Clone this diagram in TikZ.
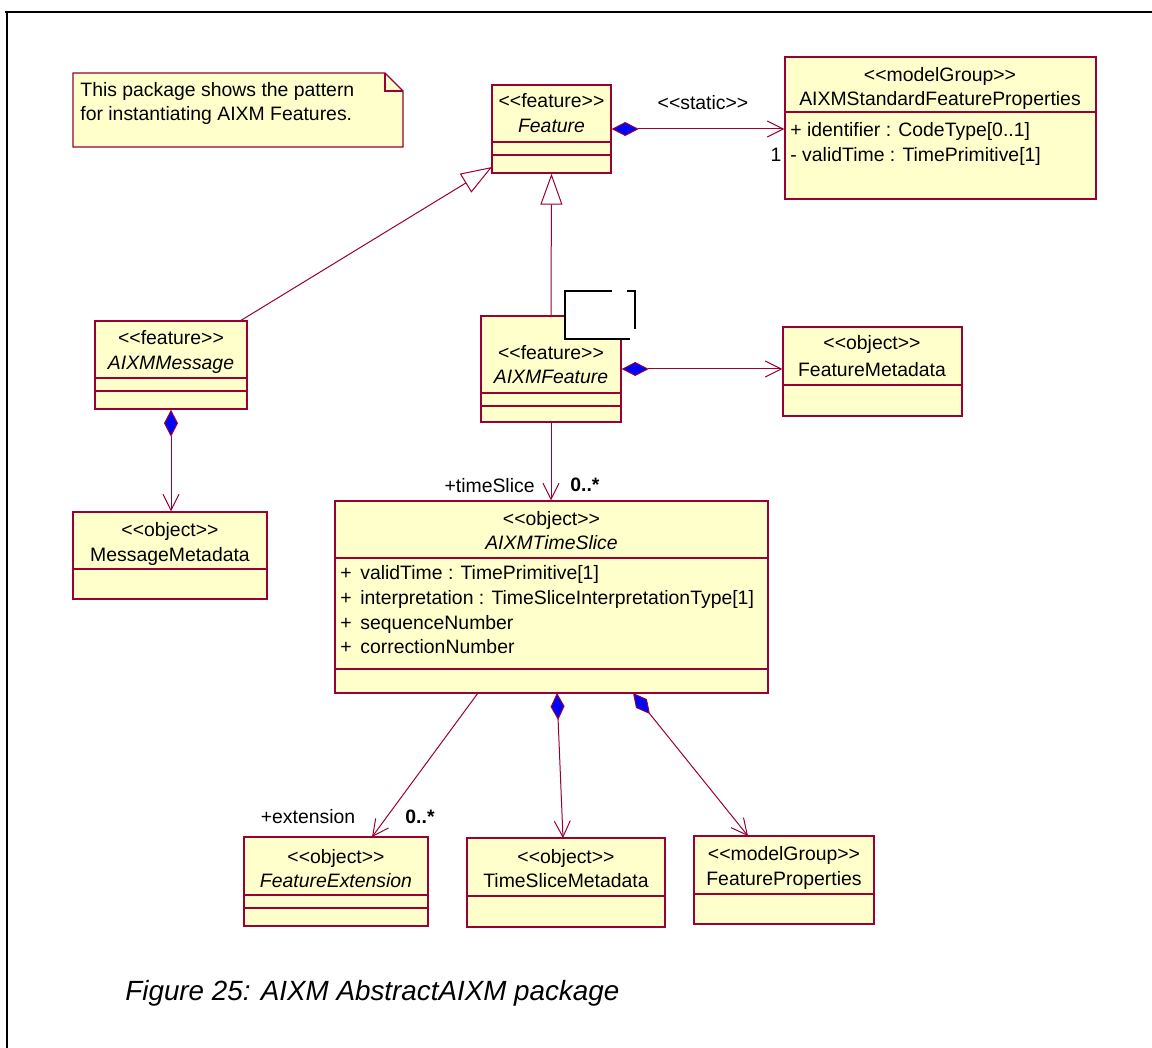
\documentclass[tikz,border=0pt]{standalone}
\usepackage{fontspec}
\setmainfont{Liberation Sans}
\usetikzlibrary{arrows.meta, positioning, calc, fit}

\definecolor{umlred}{RGB}{153,0,51}
\definecolor{umlyellow}{RGB}{255,255,204}
\definecolor{umlblue}{RGB}{0,0,255}
% stereotype brackets, kept apart so they are not turned into guillemets
\newcommand{\stype}[1]{<\kern0pt<#1>\kern0pt>}

\tikzset{
  umlbox/.style={draw=umlred, fill=umlyellow, line width=0.7pt, inner sep=0pt},
  sepline/.style={draw=umlred, line width=0.6pt},
  txt/.style={inner sep=0pt, anchor=base},
  attr/.style={inner sep=0pt, anchor=base west},
  assoc/.style={draw=umlred, line width=0.5pt, arrows={-Straight Barb[length=8pt,width=8pt]}},
  compo/.style={draw=umlred, line width=0.5pt,
    arrows={Diamond[length=13.5pt,width=7pt,fill=umlblue]-Straight Barb[length=8pt,width=8pt]}},
  gener/.style={draw=umlred, line width=0.5pt, arrows={-Triangle[length=15.5pt,width=11pt,fill=white]}}
}

\begin{document}
\begin{tikzpicture}[x=0.5pt,y=-0.5pt,font=\fontsize{9.7}{11}\selectfont]

\useasboundingbox (0,0) rectangle (1152,1048);

% --- cornice
\draw[line width=1.3pt] (5,12) -- (1152,12);
\draw[line width=1pt] (7,12) -- (7,1048);

% ================== Nota ==================
\draw[umlbox] (73,73) -- (385,73) -- (403,91) -- (403,147) -- (73,147) -- cycle;
\draw[sepline] (385,73) -- (385,91) -- (403,91);
\node[attr] (note) at (80,97) {This package shows the pattern};
\node[attr] (note2) at (80,121) {for instantiating AIXM Features.};

% ================== Classi ==================
% Feature
\node[umlbox, fit={(492,85) (611,173)}] (feat) {};
\draw[sepline] (492,142) -- (611,142);
\draw[sepline] (492,155) -- (611,155);
\node[txt] at (551.5,108) {\stype{feature}};
\node[txt] at (551.5,133) {\textit{Feature}};

% AIXMStandardFeatureProperties
\node[umlbox, fit={(785,57) (1096,199)}] (stdprops) {};
\draw[sepline] (785,112) -- (1096,112);
\node[txt] at (940,82) {\stype{modelGroup}};
\node[txt] at (940,106) {AIXMStandardFeatureProperties};
\node[attr] at (790,137) {+ identifier : CodeType[0..1]};
\node[attr] at (790,162) {- validTime : TimePrimitive[1]};

% AIXMMessage
\node[umlbox, fit={(95,321) (247,409)}] (msg) {};
\draw[sepline] (95,378) -- (247,378);
\draw[sepline] (95,391) -- (247,391);
\node[txt] at (171,345) {\stype{feature}};
\node[txt] at (171,370) {\textit{AIXMMessage}};

% MessageMetadata
\node[umlbox, fit={(73,512) (267,599)}] (mmeta) {};
\draw[sepline] (73,569) -- (267,569);
\node[txt] at (170,536) {\stype{object}};
\node[txt] at (170,561) {MessageMetadata};

% AIXMFeature
\node[umlbox, fit={(481,316) (621,422)}] (afeat) {};
\draw[sepline] (481,393) -- (621,393);
\draw[sepline] (481,406) -- (621,406);
\node[txt] at (551,359) {\stype{feature}};
\node[txt] at (551,384) {\textit{AIXMFeature}};

% riquadro bianco sopra AIXMFeature
\fill[white] (565,291) rectangle (635,339);
\draw[black, line width=0.6pt] (612,291) -- (565,291) -- (565,339) -- (630,339);
\draw[black, line width=0.6pt] (627,291) -- (635,291) -- (635,329);

% FeatureMetadata
\node[umlbox, fit={(783,327) (962,416)}] (fmeta) {};
\draw[sepline] (783,385) -- (962,385);
\node[txt] at (872,350) {\stype{object}};
\node[txt] at (872,377) {FeatureMetadata};

% AIXMTimeSlice
\node[umlbox, fit={(335,501) (768,693)}] (tslice) {};
\draw[sepline] (335,558) -- (768,558);
\draw[sepline] (335,669) -- (768,669);
\node[txt] at (551.5,525) {\stype{object}};
\node[txt] at (551.5,549) {\textit{AIXMTimeSlice}};
\node[attr] at (340,579) {+ \,validTime : TimePrimitive[1]};
\node[attr] at (340,604) {+ \,interpretation : TimeSliceInterpretationType[1]};
\node[attr] at (340,629) {+ \,sequenceNumber};
\node[attr] at (340,653) {+ \,correctionNumber};

% FeatureExtension
\node[umlbox, fit={(244,837) (428,926)}] (fext) {};
\draw[sepline] (244,895) -- (428,895);
\draw[sepline] (244,908) -- (428,908);
\node[txt] at (336,863) {\stype{object}};
\node[txt] at (336,887) {\textit{FeatureExtension}};

% TimeSliceMetadata
\node[umlbox, fit={(467,838) (665,927)}] (tsmeta) {};
\draw[sepline] (467,896) -- (665,896);
\node[txt] at (566,863) {\stype{object}};
\node[txt] at (566,887) {TimeSliceMetadata};

% FeatureProperties
\node[umlbox, fit={(694,836) (874,924)}] (fprops) {};
\draw[sepline] (694,894) -- (874,894);
\node[txt] at (784,860) {\stype{modelGroup}};
\node[txt] at (784,885) {FeatureProperties};

% ================== Relazioni ==================
% generalizzazioni verso Feature
\coordinate (msgTop) at (240,321);
\coordinate (featL) at (492,167);
\draw[gener] (msgTop) -- (featL);
\draw[gener] (afeat.north) -- (feat.south);

% composizioni
\draw[compo] (feat.east) -- (feat.east -| stdprops.west);
\node[txt] at (703,110) {\stype{static}};
\node[txt] at (776,162) {1};

\draw[compo] (afeat.east) -- (afeat.east -| fmeta.west);
\draw[compo] (msg.south) -- (msg.south |- mmeta.north);

% timeSlice
\draw[assoc] (afeat.south) -- (afeat.south |- tslice.north);
\node[txt, anchor=base east] at (535,492) {+timeSlice};
\node[txt, anchor=base west] at (570,491) {\textbf{0..*}};

% dal fondo di AIXMTimeSlice
\coordinate (tsA) at (478,693);
\coordinate (tsB) at (557,693);
\coordinate (tsC) at (633,693);
\coordinate (fextTop) at (372,837);
\coordinate (tsmTop) at (563,838);
\coordinate (fprTop) at (748,836);
\draw[assoc] (tsA) -- (fextTop);
\draw[compo] (tsB) -- (tsmTop);
\draw[compo] (tsC) -- (fprTop);
\node[txt] at (308,823) {+extension};
\node[txt] at (420,823) {\textbf{0..*}};

% didascalia
\node[attr, font=\fontsize{13.9}{16}\selectfont\itshape] (caption) at (125,1000) {Figure 25: AIXM AbstractAIXM package};

\end{tikzpicture}
\end{document}
